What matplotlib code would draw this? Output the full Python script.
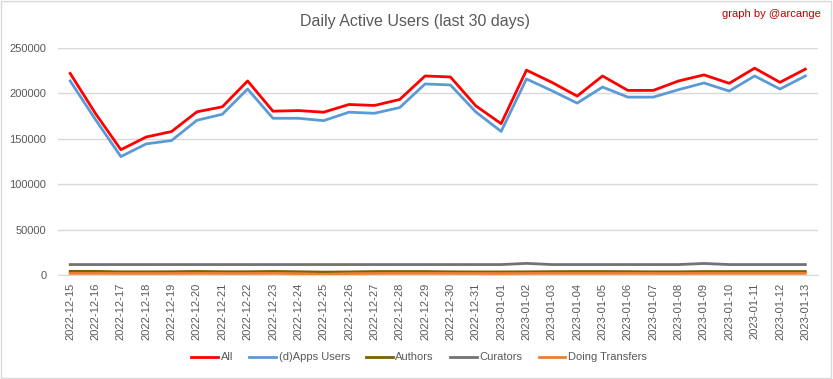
import matplotlib
matplotlib.use("Agg")
import matplotlib.pyplot as plt
from matplotlib.patches import Rectangle

dates = ["2022-12-15", "2022-12-16", "2022-12-17", "2022-12-18", "2022-12-19",
         "2022-12-20", "2022-12-21", "2022-12-22", "2022-12-23", "2022-12-24",
         "2022-12-25", "2022-12-26", "2022-12-27", "2022-12-28", "2022-12-29",
         "2022-12-30", "2022-12-31", "2023-01-01", "2023-01-02", "2023-01-03",
         "2023-01-04", "2023-01-05", "2023-01-06", "2023-01-07", "2023-01-08",
         "2023-01-09", "2023-01-10", "2023-01-11", "2023-01-12", "2023-01-13"]

all_users = [222000, 177800, 138000, 152000, 158000, 179700, 185200, 213700, 180400, 181100,
             179300, 187800, 186700, 193300, 219200, 218100, 186300, 166700, 225600, 212200,
             197000, 219200, 203300, 203300, 213700, 220400, 211100, 227800, 212200, 226700]

apps_users = [213700, 171100, 130400, 144400, 148100, 170400, 177000, 204800, 172600, 172600,
              170000, 179300, 178100, 184400, 210400, 209300, 179600, 158100, 215900, 203000,
              189300, 207000, 195900, 195900, 204100, 211500, 202600, 219200, 204800, 219200]

authors = [4000, 4000, 3500, 3500, 3600, 3900, 3600, 3600, 3900, 3600,
           3200, 3400, 3800, 3800, 3800, 3500, 3400, 3400, 3500, 3700,
           3800, 3800, 3700, 3500, 3500, 3800, 3800, 3800, 3800, 3800]

curators = [11500, 11500, 11500, 11500, 11500, 11500, 11500, 11500, 11500, 11500,
            11500, 11500, 11500, 11500, 11500, 11500, 11500, 11500, 12800, 11500,
            11500, 11500, 11500, 11500, 11500, 12700, 11500, 11500, 11500, 11500]

transfers = [1800, 1800, 1700, 1700, 1700, 1800, 1700, 1700, 1800, 1500,
             800, 1500, 1700, 1800, 1800, 1700, 1700, 1600, 1700, 1800,
             1800, 1800, 1800, 1700, 1700, 1800, 1800, 1800, 1800, 1800]

yticks = [0, 50000, 100000, 150000, 200000, 250000]

plt.rcParams['font.family'] = ['Liberation Sans', 'DejaVu Sans']

fig = plt.figure(figsize=(8.33, 3.79), dpi=100)
fig.patches.append(Rectangle((0.001, 0.002), 0.997, 0.995, transform=fig.transFigure,
                             fill=False, edgecolor="#D9D9D9", linewidth=1))
ax = fig.add_axes([57.5 / 833, 1 - 275 / 379, (818 - 57.5) / 833, (275 - 48) / 379])

x = list(range(len(dates)))
series = [
    ("All", all_users, "#FF0000"),
    ("(d)Apps Users", apps_users, "#5B9BD5"),
    ("Authors", authors, "#7F6000"),
    ("Curators", curators, "#767171"),
    ("Doing Transfers", transfers, "#ED7D31"),
]
handles = []
for name, vals, col in series:
    h, = ax.plot(x, vals, color=col, linewidth=2, label=name, solid_joinstyle="round")
    handles.append(h)
ax.set_xlim(-0.5, len(dates) - 0.5)
ax.set_ylim(0, 250000)
ax.set_yticks(yticks)
ax.set_yticklabels([str(v) for v in yticks])
ax.set_xticks(x)
ax.set_xticklabels(dates, rotation=90)
ax.grid(axis="y", color="#D9D9D9", linewidth=1)
ax.set_axisbelow(True)
for s in ["top", "right", "left"]:
    ax.spines[s].set_visible(False)
ax.spines["bottom"].set_color("#D9D9D9")
ax.tick_params(axis="both", length=0, colors="#595959", labelsize=8)
ax.tick_params(axis="y", pad=8)
ax.tick_params(axis="x", pad=5.5)

fig.text(0.498, 0.942, "Daily Active Users (last 30 days)", ha="center", va="center",
         fontsize=11.5, color="#595959")
fig.text(0.986, 0.962, "graph by @arcange", ha="right", va="center",
         fontsize=8, color="#C00000")

fig.legend(handles=handles, loc="center", bbox_to_anchor=(0.503, 0.057), ncol=5,
           frameon=False, fontsize=8, labelcolor="#595959", handlelength=2.4,
           handletextpad=0.25, columnspacing=1.45)

fig.savefig("out.png", dpi=100)
